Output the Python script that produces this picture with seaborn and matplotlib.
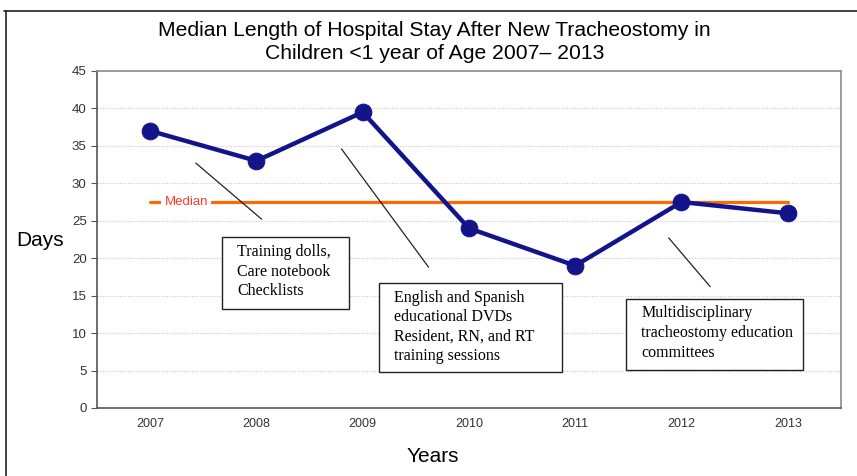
import numpy as np
import matplotlib
matplotlib.use("Agg")
import matplotlib.pyplot as plt
from matplotlib.patches import Rectangle
from matplotlib.lines import Line2D
import seaborn as sns

# data
years = ["2007", "2008", "2009", "2010", "2011", "2012", "2013"]
days = [37, 33, 39.5, 24, 19, 27.5, 26]
median_days = 27.5
notes = [
    "Training dolls,\nCare notebook\nChecklists",
    "English and Spanish\neducational DVDs\nResident, RN, and RT\ntraining sessions",
    "Multidisciplinary\ntracheostomy education\ncommittees",
]

sns.set_style("white")
plt.rcParams['font.family'] = ['Liberation Sans Narrow', 'Liberation Sans', 'DejaVu Sans']

fig = plt.figure(figsize=(8.57, 4.76), dpi=100)
ax = fig.add_axes([0.1132, 0.1429, 0.868, 0.708])

x = np.arange(len(years))

# median reference line
sns.lineplot(x=x, y=[median_days] * len(x), ax=ax, color="#ff6a00", linewidth=2.3, zorder=2)
ax.text(0.34, median_days, "Median", color="#ff3b2f", fontsize=9.5, ha="center", va="center",
        family=['Liberation Sans', 'DejaVu Sans'],
        bbox=dict(facecolor="white", edgecolor="none", pad=2.2), zorder=3)

# main series
sns.lineplot(x=x, y=days, ax=ax, color="#14148a", linewidth=3.2, marker="o",
             markersize=12, markeredgecolor="#14148a", zorder=4)

ax.set_xlim(-0.5, len(years) - 0.5)
ax.set_ylim(0, 45)
ax.set_yticks(np.arange(0, 46, 5))
ax.set_xticks(x)
ax.set_xticklabels(years)
ax.set_xticks(np.arange(-0.5, len(years), 1), minor=True)
ax.tick_params(axis="x", which="major", length=0, pad=7, labelsize=9, labelcolor="#333333")
ax.tick_params(axis="x", which="minor", length=4, color="#555555", direction="out")
ax.tick_params(axis="y", length=4, color="#555555", direction="out", labelsize=9.5,
               labelcolor="#333333", left=True)
for lab in ax.get_xticklabels() + ax.get_yticklabels():
    lab.set_family(['Liberation Sans', 'DejaVu Sans'])

ax.yaxis.grid(True, linestyle=(0, (1, 1.5)), color="#c8c8c8", linewidth=0.8)
ax.set_axisbelow(True)
for side, sp in ax.spines.items():
    sp.set_visible(True)
    sp.set_color("#8c8c8c" if side in ("top", "right") else "#555555")
    sp.set_linewidth(1.2)

ax.set_xlabel("")
ax.set_ylabel("")

# annotation boxes and pointer lines
serif = ['Liberation Serif', 'DejaVu Serif']
boxes = [(0.68, 13.2, 1.19, 9.6), (2.15, 4.8, 1.73, 11.9), (4.48, 5.1, 1.66, 9.5)]
for (bx, by, bw, bh), note in zip(boxes, notes):
    ax.add_patch(Rectangle((bx, by), bw, bh, facecolor="white", edgecolor="#222222",
                           linewidth=1.0, zorder=5))
    ax.text(bx + 0.14, by + bh - 0.9, note, family=serif, fontsize=11.5, va="top", ha="left",
            linespacing=1.3, color="black", zorder=6)

pointers = [((0.43, 32.7), (1.05, 25.2)), ((1.80, 34.6), (2.62, 18.8)), ((4.88, 22.7), (5.27, 16.2))]
for (x0, y0), (x1, y1) in pointers:
    ax.plot([x0, x1], [y0, y1], color="#222222", linewidth=0.9, zorder=3)

# titles and axis labels
fig.text(0.507, 0.912, "Median Length of Hospital Stay After New Tracheostomy in\nChildren <1 year of Age 2007\u2013 2013",
         ha="center", va="center", fontsize=15.2, linespacing=1.3, color="black")
fig.text(0.047, 0.495, "Days", ha="center", va="center", fontsize=15, color="black")
fig.text(0.505, 0.042, "Years", ha="center", va="center", fontsize=15, color="black")

# outer frame (top and left edges only)
fig.add_artist(Line2D([0.005, 1.0], [0.977, 0.977], color="#222222", linewidth=1.2))
fig.add_artist(Line2D([0.007, 0.007], [0.0, 0.977], color="#222222", linewidth=1.2))

fig.savefig("out.png", dpi=100)
